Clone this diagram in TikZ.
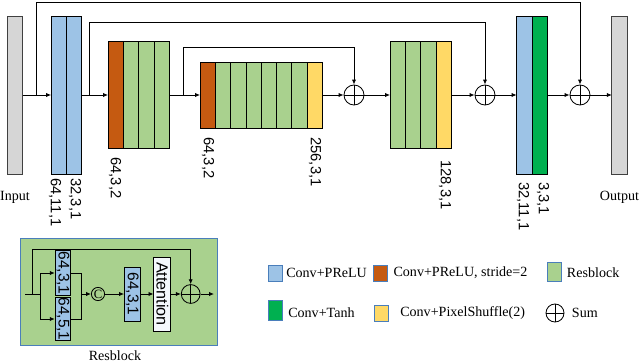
\documentclass[tikz,border=0pt]{standalone}
\usepackage{fontspec}
\setmainfont{Liberation Serif}
\setsansfont{Liberation Sans}
\usepackage{graphicx}
\usetikzlibrary{arrows.meta, positioning, shapes.geometric}

\definecolor{cgray}{HTML}{D6D6D6}
\definecolor{cblue}{HTML}{9DC3E6}
\definecolor{corange}{HTML}{C55A11}
\definecolor{cgreen}{HTML}{A9D18E}
\definecolor{cyellow}{HTML}{FFD966}
\definecolor{cdgreen}{HTML}{00B050}
\definecolor{cedge}{HTML}{4A7EBB}
\definecolor{cattn}{HTML}{F4F8FC}

\begin{document}
\begin{tikzpicture}[
    x=0.025cm, y=-0.025cm,
    block node/.style={draw, line width=0.6pt, inner sep=0, outer sep=0, minimum width=0.3825cm},
    tall node/.style={block node, minimum height=3.95cm},
    mid node/.style={block node, minimum height=2.675cm},
    short node/.style={block node, minimum height=1.65cm},
    sum node/.style={circle, draw, line width=0.6pt, minimum size=0.5cm, inner sep=0,
        path picture={\draw[line width=0.6pt] (path picture bounding box.north) -- (path picture bounding box.south)
            (path picture bounding box.west) -- (path picture bounding box.east);}},
    label node/.style={rotate=-90, anchor=west, inner sep=0, font=\sffamily\fontsize{10.5}{12}\selectfont},
    res node/.style={draw, line width=0.6pt, fill=cblue, inner sep=0, minimum width=0.39cm, font=\sffamily\fontsize{11}{12}\selectfont},
    key node/.style={draw=cedge, line width=0.6pt, minimum width=0.35cm, minimum height=0.4cm, inner sep=0},
    key text/.style={anchor=west, inner sep=0},
    line/.style={line width=0.6pt},
    arrow/.style={-{Latex[length=3.5pt,width=3pt]}, line width=0.6pt}
    ]

    \useasboundingbox (0,0) rectangle (640,362);

    % input
    \node[tall node, fill=cgray, draw=black!75] (IN) at (15,95) {};
    \node (INl) at (15,197) {Input};

    % first conv
    \node[tall node, fill=cblue] (B1) at (58.8,95) {};
    \node[tall node, fill=cblue, right=0pt of B1] (B2) {};
    \node[label node] (B1l) at (55,178) {64,11,1};
    \node[label node] (B2l) at (75,178) {32,3,1};

    % down block
    \node[mid node, fill=corange] (C1) at (115.7,95) {};
    \node[mid node, fill=cgreen, right=0pt of C1] (C2) {};
    \node[mid node, fill=cgreen, right=0pt of C2] (C3) {};
    \node[mid node, fill=cgreen, right=0pt of C3] (C4) {};
    \node[label node] (C1l) at (115,157) {64,3,2};

    % bottom block
    \node[short node, fill=corange] (D1) at (207.7,95) {};
    \node[short node, fill=cgreen, right=0pt of D1] (D2) {};
    \node[short node, fill=cgreen, right=0pt of D2] (D3) {};
    \node[short node, fill=cgreen, right=0pt of D3] (D4) {};
    \node[short node, fill=cgreen, right=0pt of D4] (D5) {};
    \node[short node, fill=cgreen, right=0pt of D5] (D6) {};
    \node[short node, fill=cgreen, right=0pt of D6] (D7) {};
    \node[short node, fill=cyellow, right=0pt of D7] (D8) {};
    \node[label node] (D1l) at (208,137) {64,3,2};
    \node[label node] (D8l) at (315,137) {256,3,1};

    \node[sum node] (S1) at (354,95) {};

    % up block
    \node[mid node, fill=cgreen] (E1) at (397.7,95) {};
    \node[mid node, fill=cgreen, right=0pt of E1] (E2) {};
    \node[mid node, fill=cgreen, right=0pt of E2] (E3) {};
    \node[mid node, fill=cyellow, right=0pt of E3] (E4) {};
    \node[label node] (E4l) at (445,160) {128,3,1};

    \node[sum node] (S2) at (485,95) {};

    % last conv
    \node[tall node, fill=cblue] (F1) at (524.3,95) {};
    \node[tall node, fill=cdgreen, right=0pt of F1] (F2) {};
    \node[label node] (F1l) at (523,182) {32,11,1};
    \node[label node] (F2l) at (543,182) {3,3,1};

    \node[sum node] (S3) at (580,95) {};

    % output
    \node[tall node, fill=cgray, draw=black!75] (OUT) at (619.5,95) {};
    \node (OUTl) at (619.5,197) {Output};

    % arrows
    \draw[arrow] (IN) -- (B1);
    \draw[arrow] (B2) -- (C1);
    \draw[arrow] (C4) -- (D1);
    \draw[arrow] (D8) -- (S1);
    \draw[arrow] (S1) -- (E1);
    \draw[arrow] (E4) -- (S2);
    \draw[arrow] (S2) -- (F1);
    \draw[arrow] (F2) -- (S3);
    \draw[arrow] (S3) -- (OUT);

    % skip connections
    \coordinate (K1) at (36,95);
    \coordinate (T1) at (36,2);
    \coordinate (K2) at (89,95);
    \coordinate (T2) at (89,22);
    \coordinate (K3) at (183,95);
    \coordinate (T3) at (183,47);
    \draw[arrow] (K1) -- (T1) -| (S3.north);
    \draw[arrow] (K2) -- (T2) -| (S2.north);
    \draw[arrow] (K3) -- (T3) -| (S1.north);

    % resblock
    \node[draw=cedge, fill=cgreen, line width=0.6pt, minimum width=4.915cm, minimum height=2.69cm, inner sep=0] (RB) at (119,292) {};
    \node (RBl) at (115,356) {Resblock};

    \coordinate (R0) at (25,294);
    \coordinate (RK) at (32,294);
    \coordinate (RT) at (32,249);
    \coordinate (RJ) at (40,294);
    \coordinate (RM) at (81,294);
    \coordinate (RO) at (214,294);

    \node[res node, minimum height=1.125cm] (R1) at (63,273) {\rotatebox{-90}{64,3,1}};
    \node[res node, minimum height=1.05cm] (R2) at (63,319) {\rotatebox{-90}{64,5,1}};
    \node[circle, draw, line width=0.6pt, minimum size=0.33cm, inner sep=0, font=\small] (CC) at (98,294) {C};
    \node[res node, minimum height=1.35cm] (R3) at (132.3,294) {\rotatebox{-90}{64,3,1}};
    \node[res node, fill=cattn, minimum width=0.42cm, minimum height=1.85cm, font=\sffamily\fontsize{11.5}{12}\selectfont] (AT) at (162.3,294) {\rotatebox{-90}{Attention}};
    \node[sum node, minimum size=0.47cm] (RS) at (190.7,294) {};

    \draw[line] (R0) -- (RJ);
    \draw[arrow] (RK) -- (RT) -| (RS.north);
    \draw[arrow] (RJ) |- (R1.west);
    \draw[arrow] (RJ) |- (R2.west);
    \draw[line] (R1.east) -| (RM);
    \draw[line] (R2.east) -| (RM);
    \draw[arrow] (RM) -- (CC);
    \draw[arrow] (CC) -- (R3);
    \draw[arrow] (R3) -- (AT);
    \draw[arrow] (AT) -- (RS);
    \draw[arrow] (RS) -- (RO);

    % legend
    \node[key node, fill=cblue] (L1) at (275.5,273) {};
    \node[key text] (L1t) at (286,273) {Conv+PReLU};
    \node[key node, fill=corange] (L2) at (380.3,273) {};
    \node[key text] (L2t) at (393.3,273) {Conv+PReLU, stride=2};
    \node[key node, fill=cgreen, minimum height=0.48cm] (L3) at (554,272) {};
    \node[key text] (L3t) at (566.7,273) {Resblock};
    \node[key node, fill=cdgreen, minimum height=0.48cm] (L4) at (275,310.5) {};
    \node[key text] (L4t) at (288,313) {Conv+Tanh};
    \node[key node, fill=cyellow] (L5) at (381.7,313) {};
    \node[key text] (L5t) at (400,313) {Conv+PixelShuffle(2)};
    \node[sum node, minimum size=0.45cm] (L6) at (555,313) {};
    \node[key text] (L6t) at (571.7,313) {Sum};

\end{tikzpicture}
\end{document}
